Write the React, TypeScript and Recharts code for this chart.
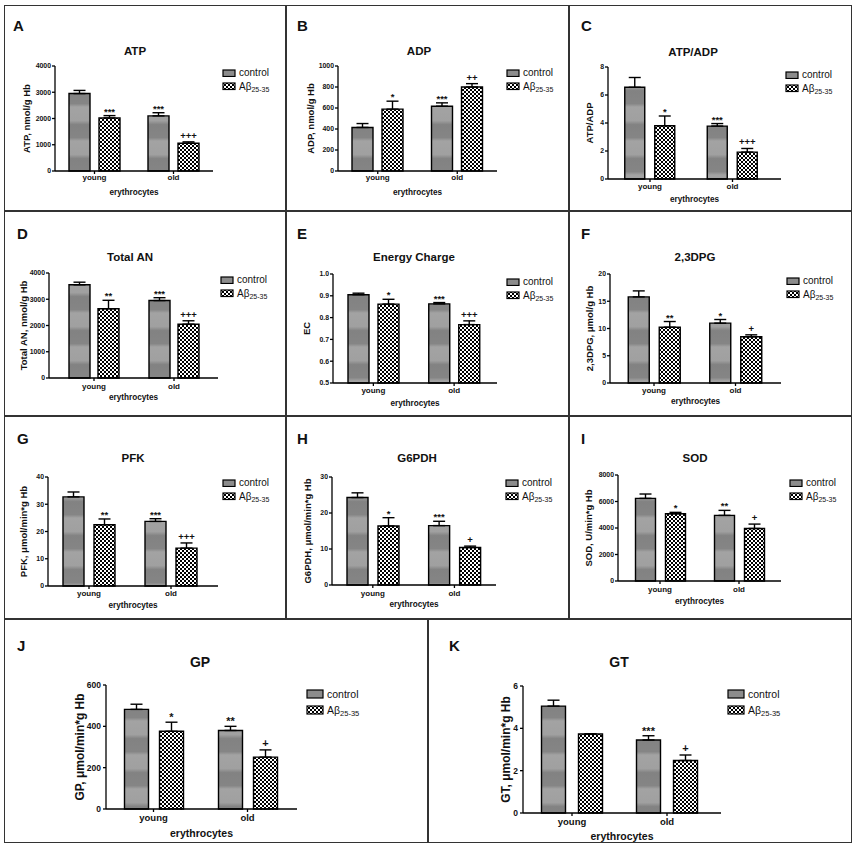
import React from "react";
import { Bar, BarChart, ErrorBar, LabelList, Legend, XAxis, YAxis } from "recharts";

const FONT = '"Liberation Sans", Arial, sans-serif';
const INK = "#111";

const GROUPS = ["young", "old"];
const SERIES = ["control", "Aβ"];
const ABETA_SUB = "25-35";

// every array is [young, old]
const ATP_CONTROL = [2950, 2100];
const ATP_CONTROL_SEM = [120, 120];
const ATP_ABETA = [2020, 1060];
const ATP_ABETA_SEM = [90, 50];
const ATP_MARKS = [["", "***"], ["***", "+++"]];
const ATP_TICKS = [0, 1000, 2000, 3000, 4000];

const ADP_CONTROL = [415, 617];
const ADP_CONTROL_SEM = [37, 32];
const ADP_ABETA = [589, 800];
const ADP_ABETA_SEM = [76, 32];
const ADP_MARKS = [["", "***"], ["*", "++"]];
const ADP_TICKS = [0, 200, 400, 600, 800, 1000];

const RATIO_CONTROL = [6.55, 3.78];
const RATIO_CONTROL_SEM = [0.7, 0.18];
const RATIO_ABETA = [3.8, 1.92];
const RATIO_ABETA_SEM = [0.7, 0.26];
const RATIO_MARKS = [["", "***"], ["*", "+++"]];
const RATIO_TICKS = [0, 2, 4, 6, 8];

const TAN_CONTROL = [3550, 2950];
const TAN_CONTROL_SEM = [100, 110];
const TAN_ABETA = [2640, 2050];
const TAN_ABETA_SEM = [320, 130];
const TAN_MARKS = [["", "***"], ["**", "+++"]];
const TAN_TICKS = [0, 1000, 2000, 3000, 4000];

const EC_CONTROL = [0.905, 0.863];
const EC_CONTROL_SEM = [0.007, 0.006];
const EC_ABETA = [0.862, 0.768];
const EC_ABETA_SEM = [0.022, 0.017];
const EC_MARKS = [["", "***"], ["*", "+++"]];
const EC_TICKS = [0.5, 0.6, 0.7, 0.8, 0.9, 1.0];

const DPG_CONTROL = [15.8, 10.98];
const DPG_CONTROL_SEM = [1.1, 0.67];
const DPG_ABETA = [10.24, 8.48];
const DPG_ABETA_SEM = [1.04, 0.36];
const DPG_MARKS = [["", "*"], ["**", "+"]];
const DPG_TICKS = [0, 5, 10, 15, 20];

const PFK_CONTROL = [32.7, 23.7];
const PFK_CONTROL_SEM = [1.8, 1.0];
const PFK_ABETA = [22.5, 13.9];
const PFK_ABETA_SEM = [2.1, 1.9];
const PFK_MARKS = [["", "***"], ["**", "+++"]];
const PFK_TICKS = [0, 10, 20, 30, 40];

const G6PDH_CONTROL = [24.3, 16.5];
const G6PDH_CONTROL_SEM = [1.3, 1.2];
const G6PDH_ABETA = [16.4, 10.4];
const G6PDH_ABETA_SEM = [2.3, 0.4];
const G6PDH_MARKS = [["", "***"], ["*", "+"]];
const G6PDH_TICKS = [0, 10, 20, 30];

const SOD_CONTROL = [6235, 4950];
const SOD_CONTROL_SEM = [330, 380];
const SOD_ABETA = [5080, 3965];
const SOD_ABETA_SEM = [100, 330];
const SOD_MARKS = [["", "**"], ["*", "+"]];
const SOD_TICKS = [0, 2000, 4000, 6000, 8000];

const GP_CONTROL = [482, 380];
const GP_CONTROL_SEM = [25, 20];
const GP_ABETA = [376, 251];
const GP_ABETA_SEM = [44, 35];
const GP_MARKS = [["", "**"], ["*", "+"]];
const GP_TICKS = [0, 200, 400, 600];

const GT_CONTROL = [5.05, 3.45];
const GT_CONTROL_SEM = [0.28, 0.2];
const GT_ABETA = [3.73, 2.48];
const GT_ABETA_SEM = [0, 0.26];
const GT_MARKS = [["", "***"], ["", "+"]];
const GT_TICKS = [0, 2, 4, 6];

type Spec = {
  letter: string;
  title: string;
  yLabel: string;
  control: number[];
  controlSem: number[];
  abeta: number[];
  abetaSem: number[];
  marks: string[][];
  ticks: number[];
  digits?: number;
  box: number[]; // left, top, right, bottom
  plot: number[]; // axis x, top y, zero y, axis end x
  centers: number[];
  barSize: number;
  barGap: number;
  letterAt: number[];
  titleAt: number[];
  yLabelX: number;
  tickBase: number;
  xLabelBase: number;
  legendAt: number[];
  big?: boolean;
};

const PANELS: Spec[] = [
  { letter: "A", title: "ATP", yLabel: "ATP, nmol/g Hb", control: ATP_CONTROL, controlSem: ATP_CONTROL_SEM, abeta: ATP_ABETA, abetaSem: ATP_ABETA_SEM, marks: ATP_MARKS, ticks: ATP_TICKS,
    box: [4, 5, 286, 211], plot: [55, 66, 171, 213], centers: [94, 174], barSize: 21, barGap: 9, letterAt: [13, 25], titleAt: [135, 52], yLabelX: 27, tickBase: 180, xLabelBase: 195, legendAt: [223, 73] },
  { letter: "B", title: "ADP", yLabel: "ADP, nmol/g Hb", control: ADP_CONTROL, controlSem: ADP_CONTROL_SEM, abeta: ADP_ABETA, abetaSem: ADP_ABETA_SEM, marks: ADP_MARKS, ticks: ADP_TICKS,
    box: [286, 5, 569, 211], plot: [338, 66, 171, 497], centers: [377.5, 457.5], barSize: 21, barGap: 9, letterAt: [297, 25], titleAt: [419, 52], yLabelX: 311, tickBase: 180, xLabelBase: 195, legendAt: [507, 73] },
  { letter: "C", title: "ATP/ADP", yLabel: "ATP/ADP", control: RATIO_CONTROL, controlSem: RATIO_CONTROL_SEM, abeta: RATIO_ABETA, abetaSem: RATIO_ABETA_SEM, marks: RATIO_MARKS, ticks: RATIO_TICKS,
    box: [569, 5, 852, 211], plot: [608, 67, 179, 781], centers: [650, 732.5], barSize: 20, barGap: 10, letterAt: [581, 25], titleAt: [693, 53], yLabelX: 590, tickBase: 189, xLabelBase: 202, legendAt: [786, 75] },
  { letter: "D", title: "Total AN", yLabel: "Total AN, nmol/g Hb", control: TAN_CONTROL, controlSem: TAN_CONTROL_SEM, abeta: TAN_ABETA, abetaSem: TAN_ABETA_SEM, marks: TAN_MARKS, ticks: TAN_TICKS,
    box: [4, 211, 286, 416], plot: [49, 273, 378, 218], centers: [94, 174], barSize: 21, barGap: 8, letterAt: [17, 233], titleAt: [130, 258], yLabelX: 24, tickBase: 389, xLabelBase: 400, legendAt: [221, 280] },
  { letter: "E", title: "Energy Charge", yLabel: "EC", control: EC_CONTROL, controlSem: EC_CONTROL_SEM, abeta: EC_ABETA, abetaSem: EC_ABETA_SEM, marks: EC_MARKS, ticks: EC_TICKS, digits: 1,
    box: [286, 211, 569, 416], plot: [333, 274, 383, 497], centers: [373, 454], barSize: 21, barGap: 9, letterAt: [297, 233], titleAt: [414, 258], yLabelX: 307, tickBase: 393, xLabelBase: 406, legendAt: [507, 282] },
  { letter: "F", title: "2,3DPG", yLabel: "2,3DPG, μmol/g Hb", control: DPG_CONTROL, controlSem: DPG_CONTROL_SEM, abeta: DPG_ABETA, abetaSem: DPG_ABETA_SEM, marks: DPG_MARKS, ticks: DPG_TICKS,
    box: [569, 211, 852, 416], plot: [610, 274, 383, 781], centers: [654, 735.5], barSize: 21, barGap: 10, letterAt: [581, 233], titleAt: [695, 258], yLabelX: 590, tickBase: 393, xLabelBase: 404, legendAt: [787, 281] },
  { letter: "G", title: "PFK", yLabel: "PFK, μmol/min*g Hb", control: PFK_CONTROL, controlSem: PFK_CONTROL_SEM, abeta: PFK_ABETA, abetaSem: PFK_ABETA_SEM, marks: PFK_MARKS, ticks: PFK_TICKS,
    box: [4, 416, 286, 619], plot: [48, 477, 586, 218], centers: [89, 171], barSize: 21, barGap: 10, letterAt: [17, 438], titleAt: [133, 459], yLabelX: 24, tickBase: 596, xLabelBase: 608, legendAt: [223, 483] },
  { letter: "H", title: "G6PDH", yLabel: "G6PDH, μmol/min*g Hb", control: G6PDH_CONTROL, controlSem: G6PDH_CONTROL_SEM, abeta: G6PDH_ABETA, abetaSem: G6PDH_ABETA_SEM, marks: G6PDH_MARKS, ticks: G6PDH_TICKS,
    box: [286, 416, 569, 619], plot: [332, 477, 585, 496], centers: [371.5, 454], barSize: 21, barGap: 10, letterAt: [297, 438], titleAt: [417, 459], yLabelX: 308, tickBase: 596, xLabelBase: 607, legendAt: [506, 483] },
  { letter: "I", title: "SOD", yLabel: "SOD, U/min*g Hb", control: SOD_CONTROL, controlSem: SOD_CONTROL_SEM, abeta: SOD_ABETA, abetaSem: SOD_ABETA_SEM, marks: SOD_MARKS, ticks: SOD_TICKS,
    box: [569, 416, 852, 619], plot: [618, 475, 581, 781], centers: [660, 739], barSize: 20, barGap: 10, letterAt: [581, 438], titleAt: [695, 459], yLabelX: 589, tickBase: 592, xLabelBase: 604, legendAt: [790, 483] },
  { letter: "J", title: "GP", yLabel: "GP, μmol/min*g Hb", control: GP_CONTROL, controlSem: GP_CONTROL_SEM, abeta: GP_ABETA, abetaSem: GP_ABETA_SEM, marks: GP_MARKS, ticks: GP_TICKS,
    box: [4, 619, 428, 843], plot: [106, 685, 809, 297], centers: [153.5, 247.5], barSize: 24, barGap: 11, letterAt: [17, 645], titleAt: [200, 662], yLabelX: 80, tickBase: 821, xLabelBase: 837, legendAt: [307, 694], big: true },
  { letter: "K", title: "GT", yLabel: "GT, μmol/min*g Hb", control: GT_CONTROL, controlSem: GT_CONTROL_SEM, abeta: GT_ABETA, abetaSem: GT_ABETA_SEM, marks: GT_MARKS, ticks: GT_TICKS,
    box: [428, 619, 852, 843], plot: [523, 686, 813, 721], centers: [572, 667], barSize: 24, barGap: 13, letterAt: [449, 645], titleAt: [619, 662], yLabelX: 506, tickBase: 825, xLabelBase: 840, legendAt: [728, 694], big: true },
];

// significance marks sit above the error cap; the px/unit ratio comes from the drawn bar
function markRenderer(rows: any[], valueKey: string, errKey: string, base: number, fontSize: number) {
  return (props: any) => {
    const mark = props.value;
    if (!mark) return null;
    const vb = props.viewBox ?? props;
    const x = Number(vb.x ?? props.x);
    const y = Number(vb.y ?? props.y);
    const w = Number(vb.width ?? props.width);
    const h = Math.abs(Number(vb.height ?? props.height));
    const row = rows[props.index];
    const k = h / (row[valueKey] - base);
    const top = y - row[errKey][1] * k;
    const plus = String(mark).includes("+");
    return (
      <text x={x + w / 2} y={top - (plus ? 3 : 1)} textAnchor="middle" fontSize={fontSize} fontWeight={700} fontFamily={FONT} fill={INK}>
        {mark}
      </text>
    );
  };
}

function Panel({ p }: { p: Spec }) {
  const [l, t, r, b] = p.box;
  const [x0, yTop, yBot, xEnd] = p.plot;
  const big = !!p.big;
  const fs = big
    ? { tick: 8.5, xtick: 9.5, xlabel: 10.5, ylabel: 12, legend: 10.5, sub: 7.5, mark: 11, title: 14 }
    : { tick: 6.9, xtick: 8, xlabel: 8.2, ylabel: 9.5, legend: 10, sub: 7, mark: 9.5, title: 11.5 };
  const rows = GROUPS.map((g, i) => ({
    group: g,
    control: p.control[i],
    controlErr: [0, p.controlSem[i]],
    abeta: p.abeta[i],
    abetaErr: [0, p.abetaSem[i]],
    controlMark: p.marks[0][i],
    abetaMark: p.marks[1][i],
  }));
  const base = p.ticks[0];
  const top = p.ticks[p.ticks.length - 1];
  const band = p.centers[1] - p.centers[0];
  const padL = Math.max(0, p.centers[0] - band / 2 - x0);
  const padR = Math.max(0, xEnd - p.centers[1] - band / 2);
  const xAxisH = p.xLabelBase - yBot;
  const rowH = big ? 16 : 13.5;
  const sw = big ? 16 : 12;
  const sh = big ? 8 : 6.5;
  const ctl = `ctl-${p.letter}`;
  const grd = `grd-${p.letter}`;
  const chk = `chk-${p.letter}`;
  const axisStroke = { stroke: "#000", strokeWidth: 1.3 };
  const textStyle = { fontFamily: FONT, fontWeight: 700, fill: INK };

  const legend = () => (
    <div style={{ fontFamily: FONT, fontSize: fs.legend, color: INK, lineHeight: 1 }}>
      {SERIES.map((s, i) => (
        <div key={s} style={{ display: "flex", alignItems: "center", height: rowH, whiteSpace: "nowrap" }}>
          <svg width={sw + 2} height={sh + 2} style={{ display: "block" }}>
            <rect x={1} y={1} width={sw} height={sh} fill={i === 0 ? "#8c8c8c" : `url(#${chk})`} stroke="#000" strokeWidth={1.2} />
          </svg>
          <span style={{ marginLeft: 3 }}>
            {s}
            {i === 1 && <span style={{ fontSize: fs.sub, position: "relative", top: 2.5 }}>{ABETA_SUB}</span>}
          </span>
        </div>
      ))}
    </div>
  );

  return (
    <>
      <div style={{ position: "absolute", left: p.letterAt[0], top: p.letterAt[1], transform: "translateY(-50%)", fontFamily: FONT, fontWeight: 700, fontSize: 15, lineHeight: 1, color: INK }}>
        {p.letter}
      </div>
      <div style={{ position: "absolute", left: p.titleAt[0], top: p.titleAt[1], transform: "translate(-50%, -50%)", fontFamily: FONT, fontWeight: 700, fontSize: fs.title, lineHeight: 1, color: INK, whiteSpace: "nowrap" }}>
        {p.title}
      </div>
      <div style={{ position: "absolute", left: l, top: t }}>
        <BarChart
          width={r - l}
          height={b - t}
          data={rows}
          barGap={p.barGap}
          margin={{ top: yTop - t, right: r - xEnd, bottom: b - yBot - xAxisH, left: 0 }}
        >
          <defs>
            <linearGradient id={grd} x1="0" y1="0" x2="0" y2="1">
              <stop offset="0" stopColor="#a3a3a3" />
              <stop offset="0.4" stopColor="#a0a0a0" />
              <stop offset="0.52" stopColor="#828282" />
              <stop offset="0.9" stopColor="#858585" />
              <stop offset="1" stopColor="#a3a3a3" />
            </linearGradient>
            <pattern id={ctl} patternUnits="userSpaceOnUse" width="8" height="34">
              <rect width="8" height="34" fill={`url(#${grd})`} />
            </pattern>
            <pattern id={chk} patternUnits="userSpaceOnUse" width="4" height="4">
              <rect width="4" height="4" fill="#fff" />
              <rect width="2" height="2" fill="#000" />
              <rect x="2" y="2" width="2" height="2" fill="#000" />
            </pattern>
          </defs>
          <XAxis
            dataKey="group"
            interval={0}
            height={xAxisH}
            padding={{ left: padL, right: padR }}
            axisLine={axisStroke}
            tickLine={axisStroke}
            tickSize={3}
            tickMargin={p.tickBase - yBot - 3}
            tick={(props: any) => (
              <text x={props.x} y={props.y} textAnchor="middle" fontSize={fs.xtick} {...textStyle}>
                {props.payload.value}
              </text>
            )}
            label={{ value: "erythrocytes", position: "insideBottom", offset: 0, style: { ...textStyle, fontSize: fs.xlabel } }}
          />
          <YAxis
            type="number"
            domain={[base, top]}
            ticks={p.ticks}
            interval={0}
            width={x0 - l}
            axisLine={axisStroke}
            tickLine={axisStroke}
            tickSize={3}
            tickMargin={big ? 2 : 1}
            tickFormatter={(v: number) => (p.digits ? v.toFixed(p.digits) : String(v))}
            tick={{ ...textStyle, fontSize: fs.tick }}
            label={{ value: p.yLabel, angle: -90, position: "insideLeft", offset: p.yLabelX - l, style: { ...textStyle, fontSize: fs.ylabel, textAnchor: "middle" } }}
          />
          <Bar dataKey="control" barSize={p.barSize} fill={`url(#${ctl})`} stroke="#000" strokeWidth={1.4} isAnimationActive={false}>
            <ErrorBar dataKey="controlErr" width={6} stroke="#000" strokeWidth={1.4} direction="y" isAnimationActive={false} />
            <LabelList dataKey="controlMark" content={markRenderer(rows, "control", "controlErr", base, fs.mark)} />
          </Bar>
          <Bar dataKey="abeta" barSize={p.barSize} fill={`url(#${chk})`} stroke="#000" strokeWidth={1.4} isAnimationActive={false}>
            <ErrorBar dataKey="abetaErr" width={6} stroke="#000" strokeWidth={1.4} direction="y" isAnimationActive={false} />
            <LabelList dataKey="abetaMark" content={markRenderer(rows, "abeta", "abetaErr", base, fs.mark)} />
          </Bar>
          <Legend
            layout="vertical"
            align="center"
            verticalAlign="middle"
            wrapperStyle={{ left: p.legendAt[0] - l - 1, top: p.legendAt[1] - t - rowH / 2, width: "auto", height: "auto" }}
            content={legend}
          />
        </BarChart>
      </div>
    </>
  );
}

const LINE = "#333";

export default function App() {
  return (
    <div style={{ position: "absolute", left: 0, top: 0, width: 856, height: 856, background: "#fff", overflow: "hidden" }}>
      <div style={{ position: "absolute", left: 4, top: 5, width: 848, height: 838, border: `1.5px solid ${LINE}`, boxSizing: "border-box" }} />
      {[211, 416, 619].map((y) => (
        <div key={y} style={{ position: "absolute", left: 4, top: y - 0.75, width: 848, height: 1.5, background: LINE }} />
      ))}
      {[286, 569].map((x) => (
        <div key={x} style={{ position: "absolute", left: x - 0.75, top: 5, width: 1.5, height: 614, background: LINE }} />
      ))}
      <div style={{ position: "absolute", left: 428 - 0.75, top: 619, width: 1.5, height: 224, background: LINE }} />
      {PANELS.map((p) => (
        <Panel key={p.letter} p={p} />
      ))}
    </div>
  );
}
